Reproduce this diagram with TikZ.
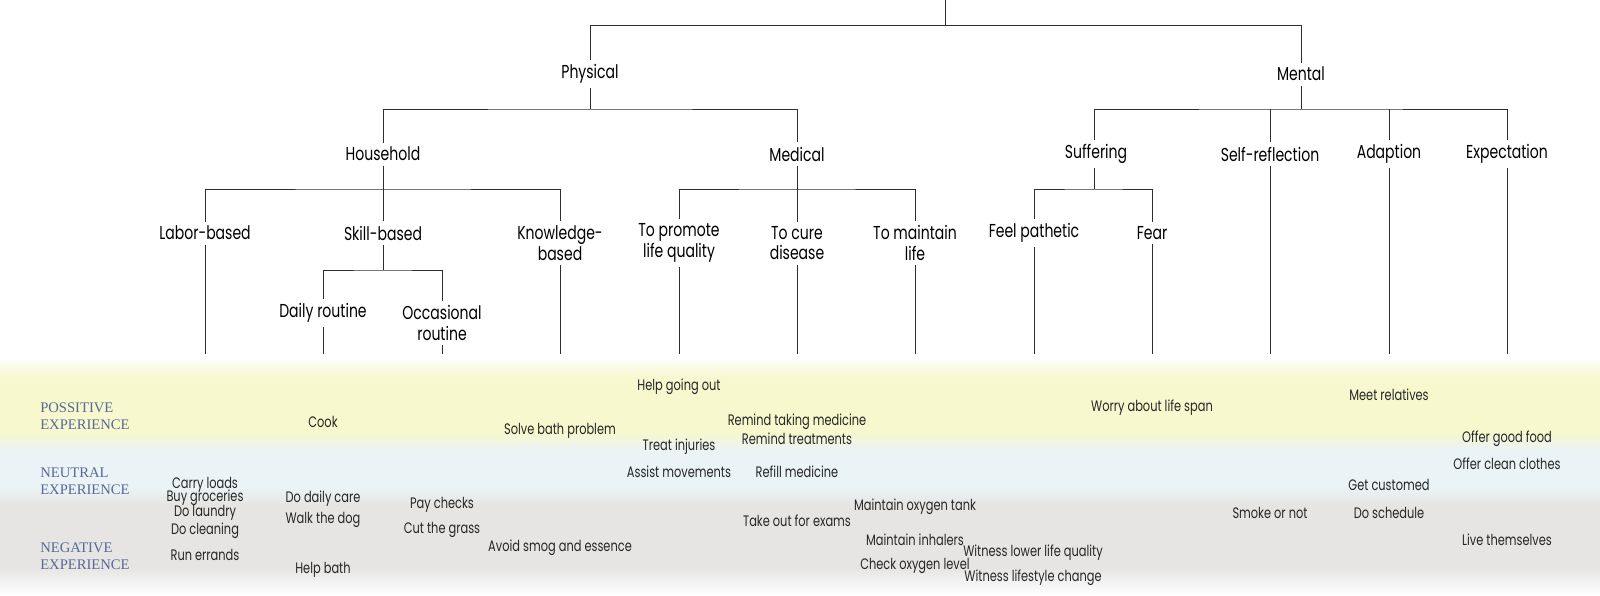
\documentclass[tikz,border=0pt]{standalone}
\usepackage{fontspec}
\setmainfont{Poppins}[FakeStretch=0.75]
\newfontfamily\bandfont{Liberation Serif}
\usetikzlibrary{positioning}
\definecolor{bandyellow}{RGB}{247,248,205}
\definecolor{bandblue}{RGB}{234,243,245}
\definecolor{bandgray}{RGB}{230,229,227}
\definecolor{bandtext}{RGB}{88,104,152}
\definecolor{treeline}{RGB}{50,45,45}
\tikzset{
  cat/.style={font=\fontsize{13.3}{14.8}\selectfont,align=center,inner sep=3pt},
  leaf/.style={font=\fontsize{10.8}{12}\selectfont,text=black!85,inner sep=1pt},
  band/.style={font=\bandfont\fontsize{10.4}{12.4}\selectfont,text=bandtext,align=left,anchor=west,inner sep=0pt},
  branch/.style={draw=treeline,line width=0.6pt},
}

\begin{document}
\begin{tikzpicture}[x=0.025cm,y=-0.025cm]
\useasboundingbox (0,0) rectangle (1600,595);

% experience bands
\shade[top color=white,bottom color=bandyellow] (0,357) rectangle (1600,378);
\fill[bandyellow] (0,378) rectangle (1600,432);
\shade[top color=bandyellow,bottom color=bandblue] (0,432) rectangle (1600,450);
\fill[bandblue] (0,450) rectangle (1600,488);
\shade[top color=bandblue,bottom color=bandgray] (0,488) rectangle (1600,505);
\fill[bandgray] (0,505) rectangle (1600,568);
\shade[top color=bandgray,bottom color=white] (0,568) rectangle (1600,595);

\node[band] (pos) at (40,416) {POSSITIVE\\EXPERIENCE};
\node[band] (neu) at (40,481) {NEUTRAL\\EXPERIENCE};
\node[band] (neg) at (40,556) {NEGATIVE\\EXPERIENCE};

% tree
\coordinate (top) at (945,0);
\coordinate (topbus) at (945,25.5);
\node[cat] (phys) at (590,74) {Physical};
\node[cat] (ment) at (1301,74) {Mental};

\coordinate (physbus) at (590,109);
\coordinate (mentbus) at (1301,109);
\node[cat] (house) at (383,154) {Household};
\node[cat] (medic) at (797,154) {Medical};
\node[cat] (suff) at (1096,154) {Suffering};
\node[cat] (selfr) at (1270,154) {Self-reflection};
\node[cat] (adapt) at (1389,154) {Adaption};
\node[cat] (expect) at (1507,154) {Expectation};

\coordinate (housebus) at (383,189);
\coordinate (medbus) at (797,189);
\coordinate (suffbus) at (1094,189);
\node[cat] (labor) at (205,233) {Labor-based};
\node[cat] (skill) at (383,233) {Skill-based};
\node[cat] (know) at (560,243) {Knowledge-\\based};
\node[cat] (promote) at (679,243) {To promote\\life quality};
\node[cat] (cure) at (797,243) {To cure\\disease};
\node[cat] (maintain) at (915,243) {To maintain\\life};
\node[cat] (pathetic) at (1034,233) {Feel pathetic};
\node[cat] (fear) at (1152,233) {Fear};

\coordinate (skillbus) at (383,270);
\node[cat] (daily) at (323,313) {Daily routine};
\node[cat] (occas) at (442,323) {Occasional\\routine};

\coordinate (bottom) at (0,354);

\draw[branch] (top) -- (topbus);
\draw[branch] (phys.north) |- (topbus) -| (ment.north);
\draw[branch] (phys.south) -- (physbus);
\draw[branch] (house.north) |- (physbus) -| (medic.north);
\draw[branch] (ment.south) -- (mentbus);
\draw[branch] (suff.north -| suffbus) |- (mentbus) -| (expect.north);
\draw[branch] (selfr.north) -- (selfr.north |- mentbus);
\draw[branch] (adapt.north) -- (adapt.north |- mentbus);
\draw[branch] (house.south) -- (housebus);
\draw[branch] (labor.north) |- (housebus) -| (know.north);
\draw[branch] (skill.north) -- (housebus);
\draw[branch] (medic.south) -- (medbus);
\draw[branch] (promote.north) |- (medbus) -| (maintain.north);
\draw[branch] (cure.north) -- (medbus);
\draw[branch] (suff.south -| suffbus) -- (suffbus);
\draw[branch] (pathetic.north) |- (suffbus) -| (fear.north);
\draw[branch] (skill.south) -- (skillbus);
\draw[branch] (daily.north) |- (skillbus) -| (occas.north);

% down to the bands
\foreach \n in {labor,daily,occas,know,promote,cure,maintain,pathetic,fear,selfr,adapt,expect}
  \draw[branch] (\n.south) -- (\n.south |- bottom);

% experiences
\foreach \n/\x/\y/\t in {
  carry/205/485/Carry loads, groceries/205/498/Buy groceries,
  laundry/205/513/Do laundry, cleaning/205/531/Do cleaning,
  errands/205/555/Run errands,
  cook/323/422/Cook, dailycare/323/499/Do daily care,
  dog/323/520/Walk the dog, helpbath/323/570/Help bath,
  checks/442/505/Pay checks, grass/442/530/Cut the grass,
  bathprob/560/431/Solve bath problem, smog/560/548/Avoid smog and essence,
  goingout/679/387/Help going out, injuries/679/447/Treat injuries,
  movements/679/472/Assist movements,
  remindmed/797/422/Remind taking medicine, remindtreat/797/439/Remind treatments,
  refill/797/472/Refill medicine, exams/797/521/Take out for exams,
  tank/915/507/Maintain oxygen tank, inhalers/915/540/Maintain inhalers,
  oxlevel/915/566/Check oxygen level,
  lowerq/1033/553/Witness lower life quality, lifestyle/1033/578/Witness lifestyle change,
  lifespan/1152/408/Worry about life span,
  smoke/1270/513/Smoke or not,
  relatives/1389/395/Meet relatives, customed/1389/485/Get customed,
  schedule/1389/513/Do schedule,
  food/1507/439/Offer good food, clothes/1507/464/Offer clean clothes,
  themselves/1507/540/Live themselves}
  \node[leaf] (\n) at (\x,\y) {\t};
\end{tikzpicture}
\end{document}
